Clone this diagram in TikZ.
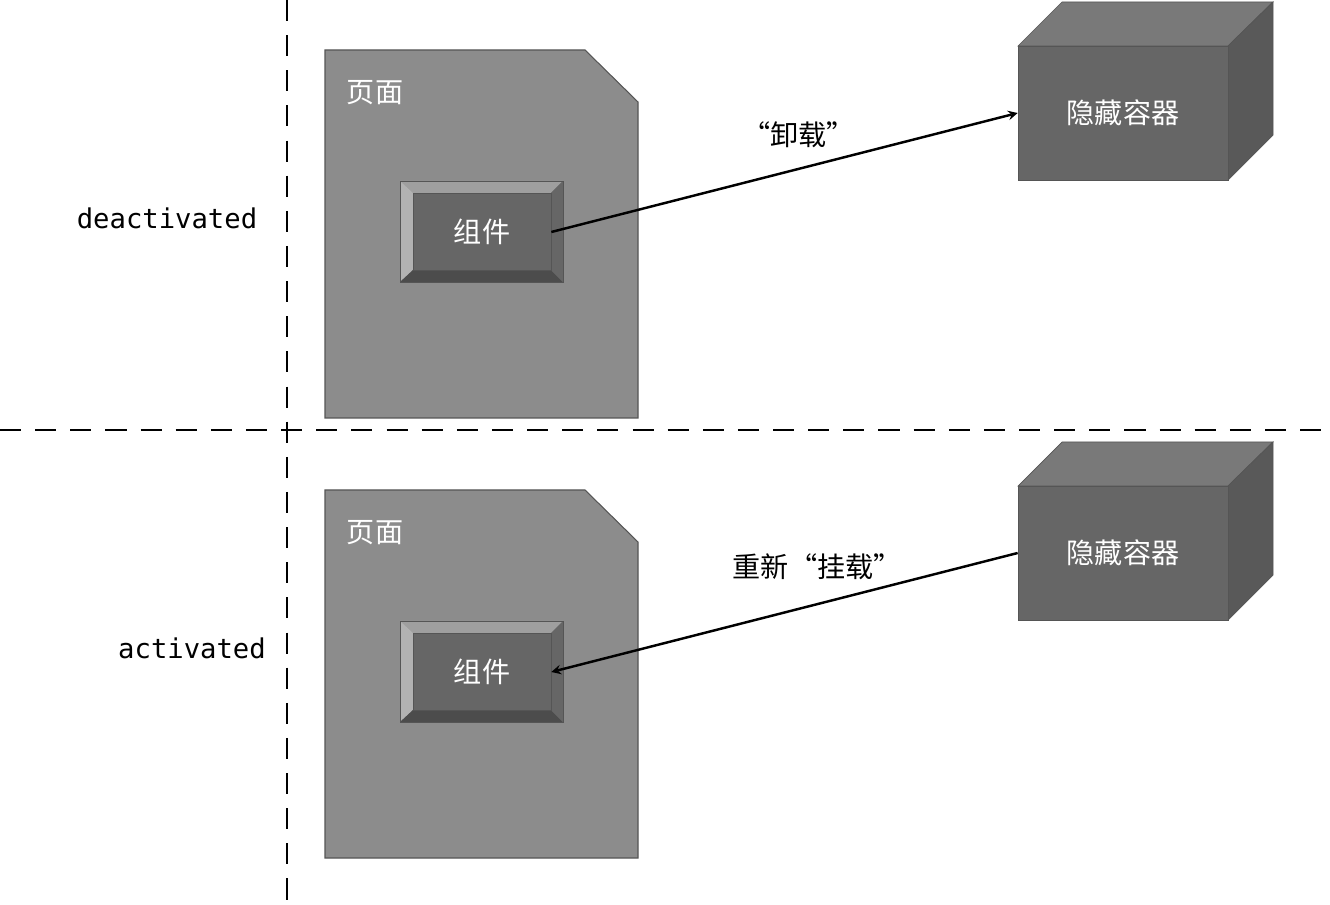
\documentclass[tikz,border=0pt]{standalone}
\usepackage{fontspec}
\setmonofont{DejaVu Sans Mono}
\newfontfamily\cjk{Noto Sans CJK SC}
\usetikzlibrary{positioning}
\definecolor{pagegray}{HTML}{8C8C8C}
\definecolor{boxgray}{HTML}{666666}
\definecolor{edgegray}{HTML}{555555}
\tikzset{
  divider/.style={dashed, dash pattern=on 12pt off 8pt, line width=0.8pt},
  pagebox/.style={fill=pagegray, draw=edgegray, line width=0.6pt},
  cjklabel/.style={font=\cjk\fontsize{16}{19}\selectfont},
  comp/.style={fill=boxgray, draw=edgegray, minimum width=2.76cm, minimum height=1.54cm, text=white, font=\cjk\fontsize{16}{19}\selectfont},
  cubefront/.style={fill=boxgray, draw=edgegray, minimum width=4.2cm, minimum height=2.68cm, text=white, font=\cjk\fontsize{16}{19}\selectfont},
  state/.style={font=\ttfamily\fontsize{15.5}{18}\selectfont},
  move/.style={->, >=stealth, line width=1.4pt}
}
\newcommand\pagefold[1]{% page shape with folded corner, top at y=#1
  \draw[pagebox] (325,#1) -- (585,#1) -- (638,#1+52) -- (638,#1+368) -- (325,#1+368) -- cycle;}
\newcommand\bevel[1]{% bevel of the component button
  \fill[gray!75] (400,#1) -- (563,#1) -- (551,#1+12) -- (413,#1+12) -- cycle;
  \fill[gray!60] (400,#1) -- (413,#1+12) -- (413,#1+89) -- (400,#1+101) -- cycle;
  \fill[black!70] (400,#1+101) -- (563,#1+101) -- (551,#1+89) -- (413,#1+89) -- cycle;
  \fill[black!60] (563,#1) -- (563,#1+101) -- (551,#1+89) -- (551,#1+12) -- cycle;
  \draw[edgegray] (400,#1) rectangle (563,#1+101);}
\newcommand\cubeback[1]{% top and side of the hidden container
  \draw[fill=gray!95!black, draw=edgegray] (1018,#1) -- (1062,#1-44) -- (1273,#1-44) -- (1228,#1) -- cycle;
  \draw[fill=black!65, draw=edgegray] (1228,#1) -- (1273,#1-44) -- (1273,#1+89) -- (1228,#1+134) -- cycle;}
\begin{document}
\begin{tikzpicture}[x=0.02cm, y=-0.02cm]
  \useasboundingbox (0,0) rectangle (1330,905);
  \draw[divider] (287,0) -- (287,905);
  \draw[divider] (0,430) -- (1330,430);

  % deactivated
  \pagefold{50}
  \node[cjklabel, text=white] (page1) at (375,93) {页面};
  \bevel{181}
  \node[comp] (comp1) at (482,232) {组件};
  \cubeback{46}
  \node[cubefront] (box1) at (1123,113) {隐藏容器};
  \node[state] (st1) at (167,218) {deactivated};
  \draw[move] (comp1.east) -- (box1.west) node[pos=0.53, above=8pt, cjklabel] {“卸载”};

  % activated
  \pagefold{490}
  \node[cjklabel, text=white] (page2) at (375,533) {页面};
  \bevel{621}
  \node[comp] (comp2) at (482,672) {组件};
  \cubeback{486}
  \node[cubefront] (box2) at (1123,553) {隐藏容器};
  \node[state] (st2) at (192,648) {activated};
  \draw[move] (box2.west) -- (comp2.east) node[pos=0.43, above=10pt, cjklabel] {重新“挂载”};
\end{tikzpicture}
\end{document}
